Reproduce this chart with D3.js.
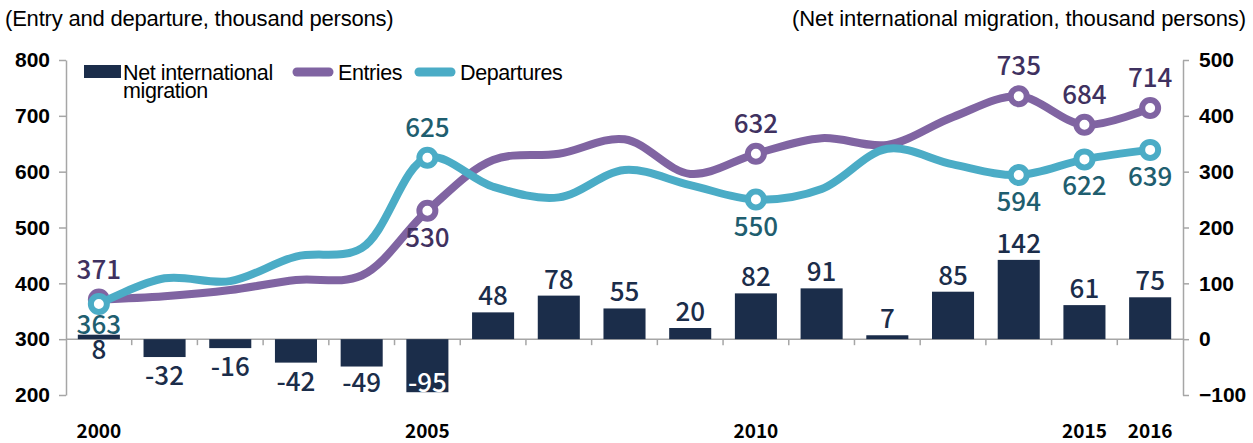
<!DOCTYPE html>
<html>
<head>
<meta charset="utf-8">
<script src="https://cdn.jsdelivr.net/npm/d3@7"></script>
<style>
  body { margin: 0; background: #fff; }
  svg { display: block; }
</style>
</head>
<body>
<svg width="1253" height="443"></svg>
<script>
const years = d3.range(2000, 2017)
const yearLabels = [2000, 2005, 2010, 2015, 2016]
const entries = [371, 377, 388, 406, 414, 530, 621, 632, 658, 596, 632, 660, 648, 698, 735, 684, 714]
const departures = [363, 409, 404, 448, 463, 625, 573, 554, 603, 576, 550, 569, 641, 613, 594, 622, 639]
const netMigration = [8, -32, -16, -42, -49, -95, 48, 78, 55, 20, 82, 91, 7, 85, 142, 61, 75]
// years that get a marker and a value label on the lines
const markedYears = [2000, 2005, 2010, 2014, 2015, 2016]
const leftTicks = [200, 300, 400, 500, 600, 700, 800]
const rightTicks = [-100, 0, 100, 200, 300, 400, 500]

const navy = "#1b2d4a"
const purple = "#8064a2"
const teal = "#4bacc6"
const axisGray = "#a6a6a6"
const labelFont = "'Noto Sans CJK KR', 'Noto Sans', sans-serif"
const textFont = "'Liberation Sans', Arial, sans-serif"

const svg = d3.select("svg")

const x = d3.scaleBand()
    .domain(years)
    .range([66, 1183])
    .paddingInner(0.36)
    .paddingOuter(0.18)

const cx = d => x(d) + x.bandwidth() / 2

const yLeft = d3.scaleLinear().domain([200, 800]).range([395, 60])
const yRight = d3.scaleLinear().domain([-100, 500]).range([395, 60])

// axis titles
svg.append("text")
    .attr("x", 5).attr("y", 26)
    .attr("font-family", textFont).attr("font-size", 22)
    .attr("letter-spacing", -0.2)
    .text("(Entry and departure, thousand persons)")

svg.append("text")
    .attr("x", 1246).attr("y", 26)
    .attr("text-anchor", "end")
    .attr("font-family", textFont).attr("font-size", 22)
    .attr("letter-spacing", -0.1)
    .text("(Net international migration, thousand persons)")

// left axis
const leftAxis = svg.append("g")
    .attr("transform", "translate(66,0)")
    .call(d3.axisLeft(yLeft).tickValues(leftTicks).tickSize(7).tickPadding(9).tickSizeOuter(0))
leftAxis.select(".domain").attr("stroke", axisGray).attr("stroke-width", 1.5)
leftAxis.selectAll(".tick line").attr("stroke", axisGray).attr("stroke-width", 1.5)
leftAxis.selectAll(".tick text")
    .attr("font-family", textFont).attr("font-size", 21).attr("font-weight", "bold").attr("fill", "#000")

// right axis
const rightAxis = svg.append("g")
    .attr("transform", "translate(1183,0)")
    .call(d3.axisRight(yRight).tickValues(rightTicks).tickSize(6).tickPadding(10).tickSizeOuter(0))
rightAxis.select(".domain").attr("stroke", axisGray).attr("stroke-width", 1.5)
rightAxis.selectAll(".tick line").attr("stroke", axisGray).attr("stroke-width", 1.5)
rightAxis.selectAll(".tick text")
    .attr("font-family", textFont).attr("font-size", 21).attr("font-weight", "bold").attr("fill", "#000")

// zero line with category ticks
const zeroY = yRight(0)
svg.append("line")
    .attr("x1", 66).attr("x2", 1183)
    .attr("y1", zeroY).attr("y2", zeroY)
    .attr("stroke", axisGray).attr("stroke-width", 1.5)

svg.append("g")
    .selectAll("line")
    .data(years.slice(1))
    .enter()
    .append("line")
    .attr("x1", d => cx(d) - x.step() / 2)
    .attr("x2", d => cx(d) - x.step() / 2)
    .attr("y1", zeroY).attr("y2", zeroY + 6)
    .attr("stroke", axisGray).attr("stroke-width", 1.5)

// year labels
svg.append("g")
    .selectAll("text")
    .data(yearLabels)
    .enter()
    .append("text")
    .attr("x", d => cx(d))
    .attr("y", 438)
    .attr("text-anchor", "middle")
    .attr("font-family", labelFont).attr("font-size", 19).attr("font-weight", "bold")
    .attr("fill", "#000")
    .text(d => d)

// bars
const barData = years.map((year, i) => ({ year: year, value: netMigration[i], i: i }))

svg.append("g")
    .selectAll("rect")
    .data(barData)
    .enter()
    .append("rect")
    .attr("x", d => x(d.year))
    .attr("width", x.bandwidth())
    .attr("y", d => yRight(Math.max(0, d.value)))
    .attr("height", d => Math.abs(yRight(d.value) - yRight(0)))
    .attr("fill", navy)

const barLabelY = d => {
    if (d.i === 0) return yRight(0) + 20
    if (d.value >= 0) return yRight(d.value) - 7
    return Math.min(yRight(d.value) + 28, 392)
}

svg.append("g")
    .selectAll("text")
    .data(barData)
    .enter()
    .append("text")
    .attr("x", d => cx(d.year))
    .attr("y", barLabelY)
    .attr("text-anchor", "middle")
    .attr("font-family", labelFont).attr("font-size", 26).attr("font-weight", 500)
    // label pushed back inside a long negative bar turns white
    .attr("fill", d => (d.value < 0 && barLabelY(d) - 18 < yRight(d.value)) ? "#fff" : navy)
    .text(d => d.value)

// lines
const lineGen = d3.line()
    .x(d => cx(d.year))
    .y(d => yLeft(d.value))
    .curve(d3.curveCatmullRom.alpha(0.5))

const series = [
    { name: "Entries", values: entries, other: departures, color: purple, text: "#3f3160" },
    { name: "Departures", values: departures, other: entries, color: teal, text: "#1f5e6f" }
]

series.forEach(s => {
    const pts = years.map((year, i) => ({ year: year, value: s.values[i], above: s.values[i] > s.other[i] }))
    const g = svg.append("g")

    g.append("path")
        .datum(pts)
        .attr("d", lineGen)
        .attr("fill", "none")
        .attr("stroke", s.color)
        .attr("stroke-width", 8)
        .attr("stroke-linecap", "round")

    const marked = pts.filter(d => markedYears.includes(d.year))

    g.selectAll("circle")
        .data(marked)
        .enter()
        .append("circle")
        .attr("cx", d => cx(d.year))
        .attr("cy", d => yLeft(d.value))
        .attr("r", 8)
        .attr("fill", "#fff")
        .attr("stroke", s.color)
        .attr("stroke-width", 6)

    s.marked = marked
})

// line value labels: the higher series is labelled above, the lower below
series.forEach(s => {
    svg.append("g")
        .selectAll("text")
        .data(s.marked)
        .enter()
        .append("text")
        .attr("x", d => cx(d.year))
        .attr("y", d => d.above ? yLeft(d.value) - 21 : Math.min(yLeft(d.value) + 36, zeroY - 5))
        .attr("text-anchor", "middle")
        .attr("font-family", labelFont).attr("font-size", 26).attr("font-weight", 500)
        .attr("fill", s.text)
        .text(d => d.value)
})

// legend
const legend = svg.append("g")
legend.append("rect")
    .attr("x", 84).attr("y", 65).attr("width", 37).attr("height", 13)
    .attr("fill", navy)
legend.append("text")
    .attr("x", 123).attr("y", 80)
    .attr("font-family", textFont).attr("font-size", 21.5).attr("letter-spacing", -0.4)
    .text("Net international")
legend.append("text")
    .attr("x", 123).attr("y", 98)
    .attr("font-family", textFont).attr("font-size", 21.5).attr("letter-spacing", -0.4)
    .text("migration")

const lineItems = [
    { label: "Entries", color: purple, x: 297 },
    { label: "Departures", color: teal, x: 419 }
]
lineItems.forEach(item => {
    legend.append("line")
        .attr("x1", item.x).attr("x2", item.x + 32)
        .attr("y1", 72).attr("y2", 72)
        .attr("stroke", item.color).attr("stroke-width", 9)
        .attr("stroke-linecap", "round")
    legend.append("text")
        .attr("x", item.x + 41).attr("y", 80)
        .attr("font-family", textFont).attr("font-size", 21.5).attr("letter-spacing", -0.4)
        .text(item.label)
})
</script>
</body>
</html>
